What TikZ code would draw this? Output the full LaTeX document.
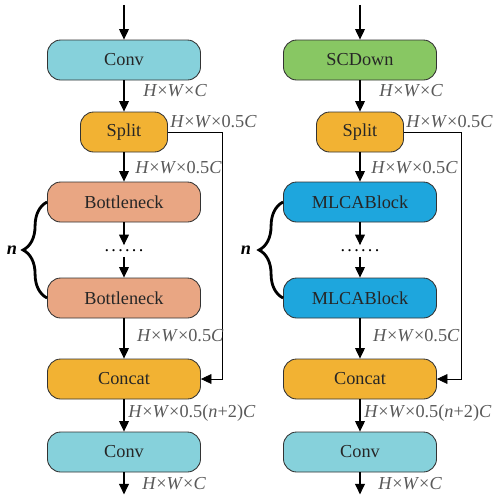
\documentclass[tikz,border=0pt]{standalone}
\usepackage{fontspec}
\setmainfont{Liberation Serif}
\usepackage{tikz}
\usetikzlibrary{arrows.meta, decorations.pathreplacing}

\definecolor{convcyan}{RGB}{134,209,219}
\definecolor{downgreen}{RGB}{136,199,99}
\definecolor{splitorange}{RGB}{242,178,51}
\definecolor{bottlesalmon}{RGB}{233,166,131}
\definecolor{mlcablue}{RGB}{30,166,221}

\newcommand{\HW}{\textit{H}×\textit{W}×}
\newcommand{\dotrow}{.\kern1.6pt.\kern1.6pt.\kern1.6pt.\kern1.6pt.\kern1.6pt.}

\tikzstyle{arrow} = [line width=0.8pt,-{Triangle[width=7pt,length=7.5pt]}]
\tikzstyle{skip} = [line width=0.55pt,-{Triangle[width=7pt,length=7.5pt]}]
\tikzstyle{block} = [draw=black!80, line width=0.6pt, rounded corners=0.33cm, minimum width=3.825cm, minimum height=1cm, text=black!85, font=\fontsize{13}{15}\selectfont]
\tikzstyle{smallblock} = [block, minimum width=2.175cm]
\tikzstyle{dim} = [anchor=west, inner sep=0pt, text=black!65, font=\fontsize{13}{15}\selectfont]
\tikzstyle{dots} = [inner sep=0pt, minimum height=0.28cm, font=\fontsize{13}{15}\selectfont]
\tikzstyle{brace} = [line width=2pt, decorate, decoration={brace, amplitude=0.6cm}]
\tikzstyle{count} = [inner sep=0pt, font=\fontsize{13}{15}\selectfont\bfseries\itshape]

\begin{document}
\begin{tikzpicture}

    \useasboundingbox (0,0) rectangle (12.325,-12.4);

    % Left column: C2f
    \coordinate (lin) at (3.1,-0.12);
    \node[block, fill=convcyan] (lconv1) at (3.1,-1.5) {Conv};
    \node[smallblock, fill=splitorange] (lsplit) at (3.1,-3.3) {Split};
    \node[block, fill=bottlesalmon] (lbot1) at (3.1,-5.05) {Bottleneck};
    \node[dots] (ldots) at (3.1,-6.275) {\dotrow};
    \node[block, fill=bottlesalmon] (lbot2) at (3.1,-7.45) {Bottleneck};
    \node[block, fill=splitorange] (lcat) at (3.1,-9.475) {Concat};
    \node[block, fill=convcyan] (lconv2) at (3.1,-11.3) {Conv};
    \coordinate (lout) at (3.1,-12.36);
    \coordinate (lskip) at (5.55,-3.3);

    % Right column: SCDown + MLCABlock
    \coordinate (rin) at (9.0,-0.12);
    \node[block, fill=downgreen] (rdown) at (9.0,-1.5) {SCDown};
    \node[smallblock, fill=splitorange] (rsplit) at (9.0,-3.3) {Split};
    \node[block, fill=mlcablue] (rblk1) at (9.0,-5.05) {MLCABlock};
    \node[dots] (rdots) at (9.0,-6.275) {\dotrow};
    \node[block, fill=mlcablue] (rblk2) at (9.0,-7.45) {MLCABlock};
    \node[block, fill=splitorange] (rcat) at (9.0,-9.475) {Concat};
    \node[block, fill=convcyan] (rconv) at (9.0,-11.3) {Conv};
    \coordinate (rout) at (9.0,-12.36);
    \coordinate (rskip) at (11.53,-3.3);

    % Edges
    \draw[arrow] (lin) -- (lconv1);
    \draw[arrow] (lconv1) -- (lsplit);
    \draw[arrow] (lsplit) -- (lbot1);
    \draw[arrow] (lbot1) -- (ldots);
    \draw[arrow] (ldots) -- (lbot2);
    \draw[arrow] (lbot2) -- (lcat);
    \draw[arrow] (lcat) -- (lconv2);
    \draw[arrow] (lconv2) -- (lout);
    \draw[skip] (lsplit.east) -- (lskip) |- (lcat.east);

    \draw[arrow] (rin) -- (rdown);
    \draw[arrow] (rdown) -- (rsplit);
    \draw[arrow] (rsplit) -- (rblk1);
    \draw[arrow] (rblk1) -- (rdots);
    \draw[arrow] (rdots) -- (rblk2);
    \draw[arrow] (rblk2) -- (rcat);
    \draw[arrow] (rcat) -- (rconv);
    \draw[arrow] (rconv) -- (rout);
    \draw[skip] (rsplit.east) -- (rskip) |- (rcat.east);

    % Repeat braces
    \draw[brace] (lbot2.west) -- (lbot1.west);
    \node[count] (ln) at (0.3,-6.25) {n};
    \draw[brace] (rblk2.west) -- (rblk1.west);
    \node[count] (rn) at (6.15,-6.25) {n};

    % Feature map sizes
    \node[dim] at (3.575,-2.275) {\HW\textit{C}};
    \node[dim] at (4.25,-3.05) {\HW 0.5\textit{C}};
    \node[dim] at (3.375,-4.2) {\HW 0.5\textit{C}};
    \node[dim] at (3.42,-8.4) {\HW 0.5\textit{C}};
    \node[dim] at (3.2,-10.33) {\HW 0.5(\textit{n}+2)\textit{C}};
    \node[dim] at (3.55,-12.08) {\HW\textit{C}};

    \node[dim] at (9.475,-2.275) {\HW\textit{C}};
    \node[dim] at (10.15,-3.05) {\HW 0.5\textit{C}};
    \node[dim] at (9.275,-4.2) {\HW 0.5\textit{C}};
    \node[dim] at (9.32,-8.4) {\HW 0.5\textit{C}};
    \node[dim] at (9.1,-10.33) {\HW 0.5(\textit{n}+2)\textit{C}};
    \node[dim] at (9.45,-12.08) {\HW\textit{C}};

\end{tikzpicture}
\end{document}
